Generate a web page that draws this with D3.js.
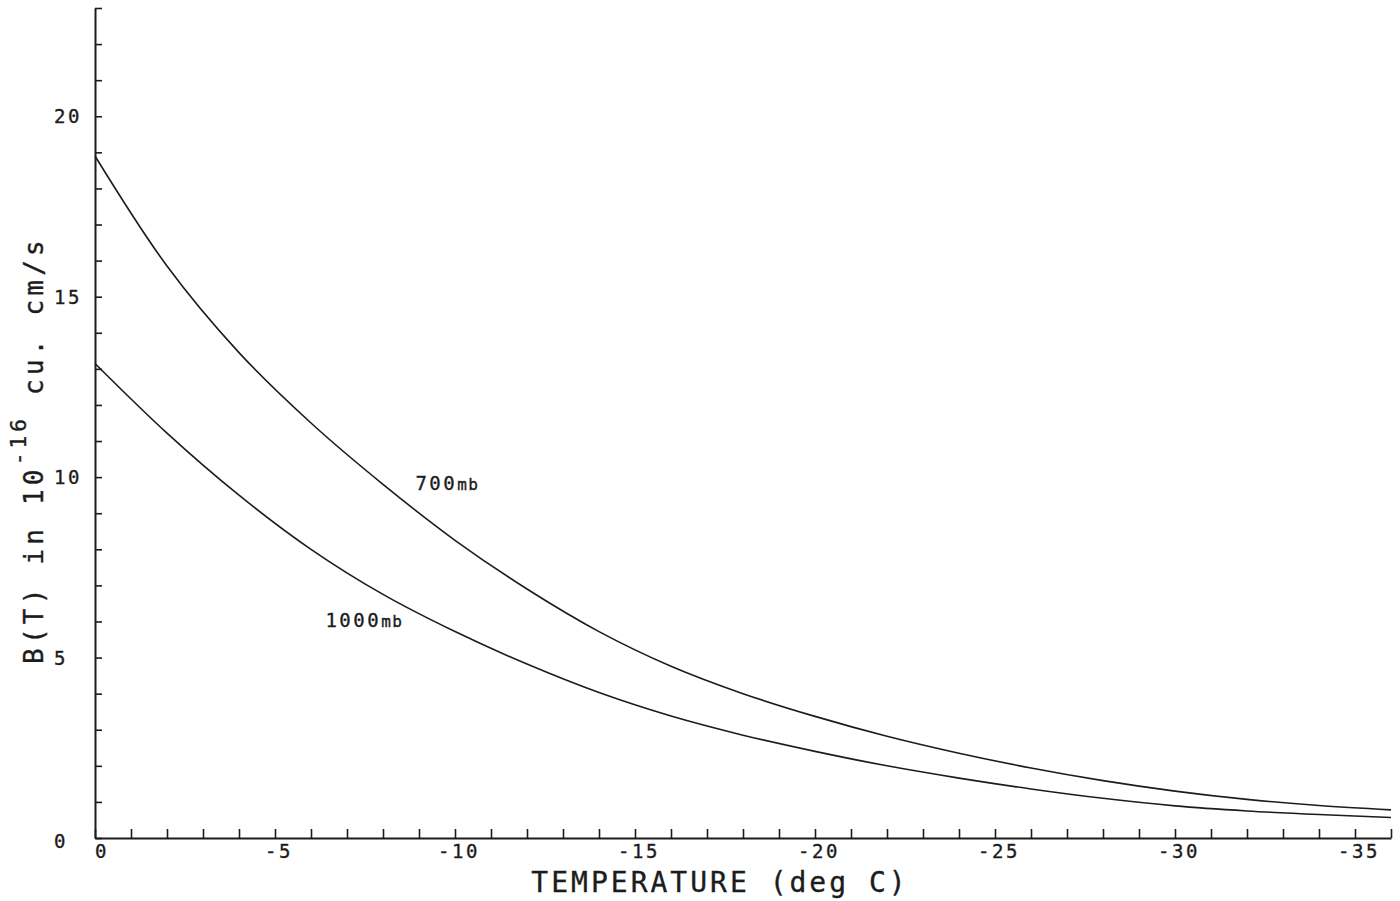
<!DOCTYPE html>
<html>
<head>
<meta charset="utf-8">
<script src="https://cdn.jsdelivr.net/npm/d3@7"></script>
<style>
  body { margin: 0; background: #fff; }
  text { font-family: "DejaVu Sans Mono", monospace; fill: #1c1c1c; stroke: #1c1c1c; stroke-width: 0.35px; font-feature-settings: "zero" 1; }
</style>
</head>
<body>
<div id="chart"></div>
<script>
// temperatures (deg C) and B(T)
var temps = [0, -2, -4, -6, -8, -10, -12, -14, -16, -18, -20, -22, -24, -26, -28, -30, -32, -34, -36]
var b700 = [18.9, 15.85, 13.45, 11.5, 9.8, 8.25, 6.9, 5.72, 4.76, 4.0, 3.37, 2.82, 2.35, 1.94, 1.59, 1.3, 1.07, 0.9, 0.78]
var b1000 = [13.15, 11.22, 9.5, 8.0, 6.75, 5.72, 4.82, 4.03, 3.38, 2.85, 2.4, 2.0, 1.66, 1.36, 1.1, 0.89, 0.75, 0.65, 0.57]

var xTickLabels = [0, -5, -10, -15, -20, -25, -30, -35]
var yTickLabels = [0, 5, 10, 15, 20]
var curveNames = ["700mb", "1000mb"]
// where the curve names sit, in data units
var labelAt = [[-8.9, 9.64], [-6.4, 5.84]]

var width = 1400
    height = 901

var svg = d3.select("#chart")
  .append("svg")
    .attr("width", width)
    .attr("height", height)

var x = d3.scaleLinear().domain([0, -36]).range([95, 1391])
var y = d3.scaleLinear().domain([0, 23]).range([838, 8])

var ink = "#1c1c1c"

// x axis, small ticks every degree pointing up
var xAxis = svg.append("g")
    .attr("transform", "translate(0," + y(0) + ")")
    .call(d3.axisBottom(x)
      .tickValues(d3.range(0, -37, -1))
      .tickSizeInner(-9)
      .tickSizeOuter(0)
      .tickFormat(""))
xAxis.select(".domain").attr("stroke", ink).attr("stroke-width", 2)
xAxis.selectAll(".tick line").attr("stroke", ink).attr("stroke-width", 1.6)

// y axis, ticks every unit pointing right
var yAxis = svg.append("g")
    .attr("transform", "translate(" + x(0) + ",0)")
    .call(d3.axisLeft(y)
      .tickValues(d3.range(0, 24))
      .tickSizeInner(-7)
      .tickSizeOuter(0)
      .tickFormat(""))
yAxis.select(".domain").attr("stroke", ink).attr("stroke-width", 2)
yAxis.selectAll(".tick line").attr("stroke", ink).attr("stroke-width", 1.6)

// tick labels
svg.selectAll(".xlab")
  .data(xTickLabels)
  .enter()
  .append("text")
    .attr("class", "xlab")
    .attr("x", d => x(d) + (d == 0 ? 7 : 4))
    .attr("y", 858)
    .attr("text-anchor", "middle")
    .style("font-size", "19px")
    .style("letter-spacing", "2.5px")
    .text(d => String(d))

svg.selectAll(".ylab")
  .data(yTickLabels)
  .enter()
  .append("text")
    .attr("class", "ylab")
    .attr("x", 54)
    .attr("y", d => y(d) + (d == 0 ? 10 : 7))
    .style("font-size", "19px")
    .style("letter-spacing", "2.5px")
    .text(d => String(d))

// axis titles
svg.append("text")
    .attr("x", 720)
    .attr("y", 892)
    .attr("text-anchor", "middle")
    .style("font-size", "28px")
    .style("letter-spacing", "3px")
    .text("TEMPERATURE (deg C)")

var yTitle = svg.append("text")
    .attr("transform", "translate(43,450) rotate(-90)")
    .attr("text-anchor", "middle")
    .style("font-size", "26px")
    .style("letter-spacing", "4.2px")
yTitle.append("tspan").text("B(T) in 10")
yTitle.append("tspan").attr("dy", -17).style("font-size", "21px").text("-16")
yTitle.append("tspan").attr("dy", 17).text(" cu. cm/s")

// the two curves
var line = d3.line()
    .x(d => x(d[0]))
    .y(d => y(d[1]))
    .curve(d3.curveCatmullRom)

var series = [b700, b1000]
svg.selectAll(".curve")
  .data(series)
  .enter()
  .append("path")
    .attr("class", "curve")
    .attr("d", vals => line(temps.map((t, i) => [t, vals[i]])))
    .attr("fill", "none")
    .attr("stroke", ink)
    .attr("stroke-width", 1.6)

// curve names
svg.selectAll(".cname")
  .data(curveNames)
  .enter()
  .append("text")
    .attr("class", "cname")
    .attr("x", (d, i) => x(labelAt[i][0]))
    .attr("y", (d, i) => y(labelAt[i][1]))
    .style("font-size", "19px")
    .style("letter-spacing", "2.5px")
    .each(function(d) {
      var num = d.replace("mb", "")
      d3.select(this).append("tspan").text(num)
      d3.select(this).append("tspan").style("font-size", "16px").style("letter-spacing", "1.5px").text("mb")
    })
</script>
</body>
</html>
